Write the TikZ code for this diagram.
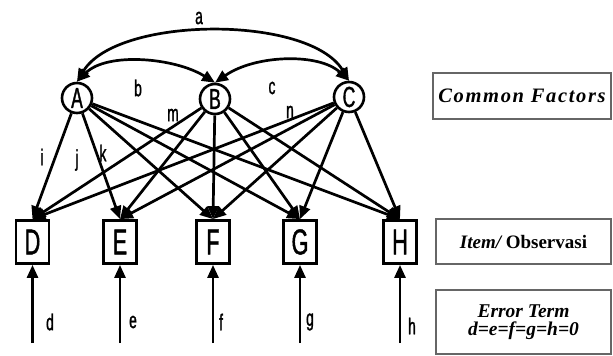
\documentclass[tikz,border=0pt]{standalone}
\usepackage{fontspec}
\setmainfont{Liberation Serif}
\newfontfamily\cond[FakeStretch=0.6,FakeBold=1.2]{Liberation Sans}
\usetikzlibrary{arrows.meta}
\begin{document}
\begin{tikzpicture}[x=1pt,y=-1pt,
  fac/.style={circle, draw, line width=2.6pt, minimum size=30pt, inner sep=0pt,
    font=\cond\fontsize{29}{29}\selectfont},
  obs/.style={rectangle, draw, line width=2.8pt, minimum width=33pt, minimum height=43pt,
    inner sep=0pt, font=\cond\fontsize{36}{36}\selectfont},
  conn/.style={line width=2.7pt, -{Triangle[length=13pt,width=11pt]}},
  biconn/.style={line width=2.7pt, {Triangle[length=13pt,width=11pt]}-{Triangle[length=13pt,width=11pt]}},
  lbl/.style={font=\cond\fontsize{23}{23}\selectfont, inner sep=0pt},
  legend/.style={draw=black!60, line width=1.2pt, inner sep=0pt, align=center,
    font=\fontsize{19.5}{19.5}\selectfont\bfseries}
]
\useasboundingbox (0,0) rectangle (613,356);
% factors
\node[fac] (A) at (77,98) {A};
\node[fac] (B) at (215,99) {B};
\node[fac] (C) at (349,97) {C};
% observed items
\node[obs] (D) at (32.5,242) {D};
\node[obs] (E) at (120,242) {E};
\node[obs] (F) at (213,242) {F};
\node[obs] (G) at (300,242) {G};
\node[obs] (H) at (400,242) {H};
% loadings
\foreach \s in {A,B,C}
  \foreach \t in {D,E,F,G,H}
    \draw[conn] (\s) -- (\t.north);
% covariances
\draw[biconn] (A.north) .. controls +(40,-66) and +(-40,-66) .. (C.north);
\draw[biconn] (A.north) .. controls +(30,-30) and +(-40,-25) .. (B.north);
\draw[biconn] (B.north) .. controls +(40,-28) and +(-30,-28) .. (C.north);
% error terms
\foreach \t/\x in {D/32.5,E/120,F/213,G/300,H/400}{
  \coordinate (\t0) at (\x,343);
  \draw[conn] (\t0) -- (\t.south);
}
% labels
\node[lbl] (la) at (199,18) {a};
\node[lbl] (lb) at (138,88) {b};
\node[lbl] (lc) at (272,88) {c};
\node[lbl] (li) at (42,157) {i};
\node[lbl] (lj) at (77,160) {j};
\node[lbl] (lk) at (103,153) {k};
\node[lbl] (lm) at (173,115) {m};
\node[lbl] (ln) at (290,112) {n};
\node[lbl] (ld) at (50,322) {d};
\node[lbl] (le) at (133,322) {e};
\node[lbl] (lf) at (221,322) {f};
\node[lbl] (lg) at (310,322) {g};
\node[lbl] (lh) at (412,326) {h};
% legend boxes
\node[legend, minimum width=178pt, minimum height=46pt] (cf) at (522,96)
  {\fontsize{20.5}{20.5}\selectfont\addfontfeature{LetterSpace=8}\itshape Common Factors};
\node[legend, minimum width=175pt, minimum height=45pt] (io) at (523.5,241.5)
  {\fontsize{19}{19}\selectfont\itshape Item/\upshape\ Observasi};
\node[legend, minimum width=175pt, minimum height=64pt] (et) at (523.5,322)
  {\itshape Error Term\\[-1pt]\itshape d=e=f=g=h=0};
\end{tikzpicture}
\end{document}
